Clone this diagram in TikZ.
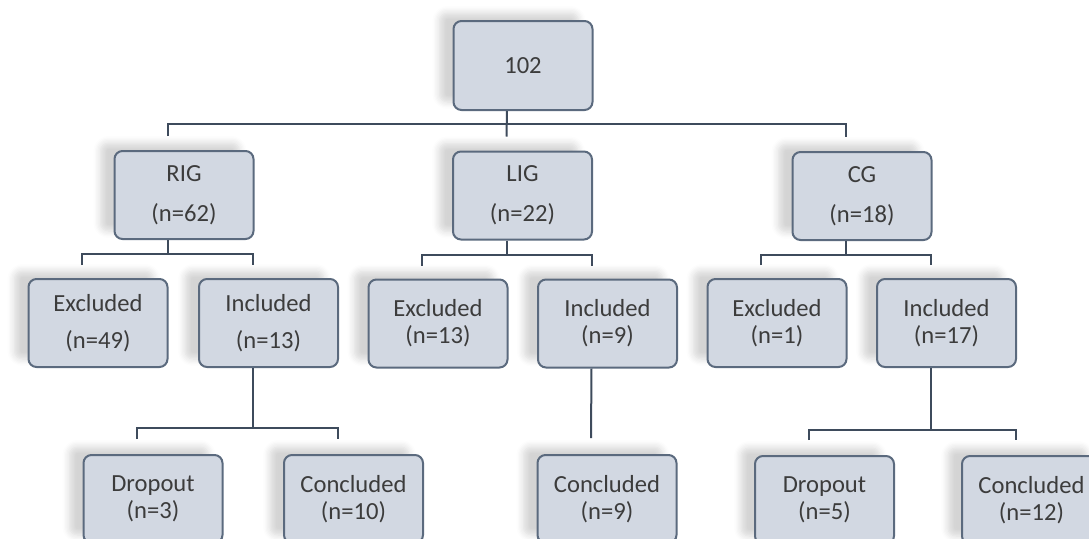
\documentclass[tikz,border=0pt]{standalone}
\usepackage{fontspec}
\setmainfont{Carlito}
\usetikzlibrary{shadows.blur}
\definecolor{boxfill}{HTML}{D2D8E2}
\definecolor{boxline}{HTML}{5B6A7E}
\definecolor{connline}{HTML}{3E4B5C}
\definecolor{txt}{HTML}{3C3C3C}
\tikzset{
  box/.style={draw=boxline, line width=1pt, fill=boxfill, rounded corners=4pt,
    minimum width=69.5pt, minimum height=44pt, inner sep=0pt, align=center,
    text=txt, font=\fontsize{12.3}{13.5}\selectfont,
    blur shadow={shadow xshift=-7pt, shadow yshift=4pt, shadow opacity=17, shadow blur radius=3.5pt, shadow blur steps=6}},
  conn/.style={draw=connline, line width=1pt}
}
\begin{document}
\begin{tikzpicture}[x=0.5pt, y=-0.5pt]
\useasboundingbox (0,0) rectangle (1089,538);
% level 0
\node[box, minimum height=44.5pt] (top) at (523,65.5) {102};
% level 1
\node[box] (RIG) at (184,195) {RIG\\[6.5pt](n=62)};
\node[box] (LIG) at (522.5,195.5) {LIG\\[6.5pt](n=22)};
\node[box] (CG) at (862,196) {CG\\[6.5pt](n=18)};
% level 2
\node[box] (RE) at (98,323) {Excluded\\[5pt](n=49)};
\node[box] (RI) at (268.5,323) {Included\\[5pt](n=13)};
\node[box] (LE) at (438,323.5) {Excluded\\(n=13)};
\node[box] (LI) at (607.5,323.5) {Included\\(n=9)};
\node[box] (CE) at (777,323) {Excluded\\(n=1)};
\node[box] (CI) at (946.5,323) {Included\\(n=17)};
% level 3
\node[box] (RD) at (153,499) {Dropout\\(n=3)};
\node[box] (RC) at (353.5,499) {Concluded\\(n=10)};
\node[box] (LC) at (607,499) {Concluded\\(n=9)};
\node[box] (CD) at (824.5,500) {Dropout\\(n=5)};
\node[box] (CC) at (1031.5,500) {Concluded\\(n=12)};
% connectors level 0 -> 1
\draw[conn] ([xshift=-8pt]top.south) -- ([xshift=-8pt,yshift=7pt]LIG.north);
\draw[conn] ([xshift=-8pt,yshift=7pt]RIG.north) |- ([xshift=-8pt,yshift=-6.5pt]top.south) -| ([xshift=-8pt,yshift=7pt]CG.north);
% connectors level 1 -> 2
\draw[conn] ([xshift=-8pt]RIG.south) -- ++(0,14);
\draw[conn] ([xshift=-8pt,yshift=6.5pt]RE.north) |- ([xshift=-8pt,yshift=-7pt]RIG.south) -| ([xshift=-8pt,yshift=6.5pt]RI.north);
\draw[conn] ([xshift=-8pt]LIG.south) -- ++(0,14);
\draw[conn] ([xshift=-8pt,yshift=6.5pt]LE.north) |- ([xshift=-8pt,yshift=-7pt]LIG.south) -| ([xshift=-8pt,yshift=6.5pt]LI.north);
\draw[conn] ([xshift=-8pt]CG.south) -- ++(0,14);
\draw[conn] ([xshift=-8pt,yshift=6.5pt]CE.north) |- ([xshift=-8pt,yshift=-7pt]CG.south) -| ([xshift=-8pt,yshift=6.5pt]CI.north);
% connectors level 2 -> 3
\draw[conn] ([xshift=-8pt]RI.south) -- ++(0,60);
\draw[conn] ([xshift=-8pt,yshift=7.5pt]RD.north) |- ([xshift=-8pt,yshift=-30pt]RI.south) -| ([xshift=-8pt,yshift=7.5pt]RC.north);
\draw[conn] ([xshift=-8pt]LI.south) -- ([xshift=-8pt,yshift=8pt]LC.north);
\draw[conn] ([xshift=-8pt]CI.south) -- ++(0,62);
\draw[conn] ([xshift=-8pt,yshift=7.5pt]CD.north) |- ([xshift=-8pt,yshift=-31pt]CI.south) -| ([xshift=-8pt,yshift=7.5pt]CC.north);
\end{tikzpicture}
\end{document}
